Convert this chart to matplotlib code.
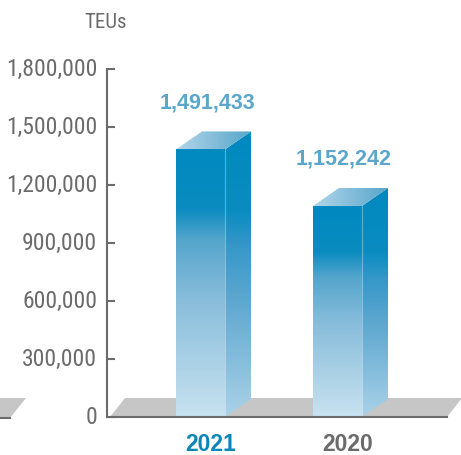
import numpy as np
import matplotlib
matplotlib.use('Agg')
import matplotlib.pyplot as plt
from matplotlib.patches import Polygon
from matplotlib.colors import LinearSegmentedColormap

# ---- data ----
years = ['2021', '2020']
teus = [1491433, 1152242]
year_colors = ['#0a87b9', '#6b6b6b']
yticks = [0, 300000, 600000, 900000, 1200000, 1500000, 1800000]
unit_label = 'TEUs'

# ---- layout (pixels) ----
W, H = 461, 456
fig = plt.figure(figsize=(W / 100, H / 100), dpi=100)
pos = [107 / W, (H - 418) / H, 340 / W, 348 / H]

GRAY = '#6b6b6b'
NARROW = ['Roboto Condensed', 'Archivo Narrow', 'DejaVu Sans']
BOLD = ['Liberation Sans', 'DejaVu Sans']

ax2 = fig.add_axes(pos)   # 3D bars and floor
ax = fig.add_axes(pos)    # visible axis
ax.patch.set_alpha(0)

px_x = 137.0                    # pixels per category step
xlim = ((107 - 200.5) / px_x, (447 - 200.5) / px_x)
bw = 49 / px_x
dx = 26 / px_x
per_px = 6000.0                 # bar-axis value per pixel
dy = 18 * per_px
fd = 19 * per_px                # floor depth
ylim2 = (-fd, 1974000)

front_cmap = LinearSegmentedColormap.from_list(
    'front', [(0, '#0089bf'), (0.22, '#0a8cc0'), (0.34, '#55a5cc'),
              (0.56, '#88bddb'), (1, '#c8e2f0')])
side_cmap = LinearSegmentedColormap.from_list(
    'side', [(0, '#0089bf'), (0.28, '#0a8cc1'), (0.4, '#3598c8'),
             (0.6, '#5fa8d0'), (1, '#aad2e8')])
top_cmap = LinearSegmentedColormap.from_list('top', ['#b2d6ea', '#58a6cb'])


def grad_fill(a, verts, cmap, direction, z):
    poly = Polygon(verts, closed=True, facecolor='none', edgecolor='none',
                   transform=a.transData)
    a.add_patch(poly)
    xs = [v[0] for v in verts]
    ys = [v[1] for v in verts]
    n = 256
    if direction == 'v':
        g = np.linspace(0, 1, n).reshape(n, 1)
    else:
        g = np.linspace(0, 1, n).reshape(1, n)
    im = a.imshow(g, cmap=cmap, extent=(min(xs), max(xs), min(ys), max(ys)),
                  origin='upper', aspect='auto', interpolation='bilinear',
                  zorder=z)
    im.set_clip_path(poly)


# floor
floor = Polygon([((110 - 200.5) / px_x, -fd), ((125 - 200.5) / px_x, 0),
                 ((462 - 200.5) / px_x, 0), ((447 - 200.5) / px_x, -fd)],
                closed=True, facecolor='#c6c6c6', edgecolor='none',
                clip_on=False, zorder=1)
ax2.add_patch(floor)

for i, v in enumerate(teus):
    xl, xr = i - bw / 2, i + bw / 2
    front = [(xl, -fd), (xr, -fd), (xr, v), (xl, v)]
    side = [(xr, -fd), (xr + dx, -fd + dy), (xr + dx, v + dy), (xr, v)]
    top = [(xl, v), (xr, v), (xr + dx, v + dy), (xl + dx, v + dy)]
    grad_fill(ax2, front, front_cmap, 'v', 3)
    grad_fill(ax2, side, side_cmap, 'v', 3)
    grad_fill(ax2, top, top_cmap, 'h', 3)
    ax2.plot([xr, xr], [-fd, v], color='white', alpha=0.35, lw=0.8, zorder=4)
    ax2.annotate(f'{v:,}', xy=(i, v), xytext=(6.5, 42), textcoords='offset pixels',
                 ha='center', va='baseline', fontsize=15.5, fontweight='bold',
                 family=BOLD, color='#5aa7cb', annotation_clip=False)
    ax2.annotate(years[i], xy=(i, 5), xycoords=('data', 'figure pixels'),
                 xytext=(10.5, 0), textcoords='offset pixels',
                 ha='center', va='baseline', fontsize=16.5, fontweight='bold',
                 family=BOLD, color=year_colors[i], annotation_clip=False)

ax2.set_xlim(xlim)
ax2.set_ylim(ylim2)
ax2.axis('off')

# visible axis
ax.set_xlim(xlim)
ax.set_ylim(0, 1800000)
for s in ['top', 'right']:
    ax.spines[s].set_visible(False)
for s in ['left', 'bottom']:
    ax.spines[s].set_color(GRAY)
    ax.spines[s].set_linewidth(1.5)
ax.set_xticks([])
ax.set_yticks(yticks)
ax.tick_params(axis='y', direction='in', length=5.8, width=1.5, color=GRAY,
               labelleft=False)
for t in yticks:
    ax.annotate(f'{t:,}', xy=(0, t), xycoords=('axes fraction', 'data'),
                xytext=(-10, -6), textcoords='offset pixels', ha='right',
                va='baseline', fontsize=17, family=NARROW, color=GRAY,
                annotation_clip=False)

fig.text(105.5 / W, (H - 28) / H, unit_label, ha='center', va='baseline',
         fontsize=15, family=NARROW, color=GRAY)

# fragment of neighbouring floor at the left edge
frag = Polygon([(0, (H - 399) / H), (26 / W, (H - 399) / H),
                (10 / W, (H - 419) / H), (0, (H - 419) / H)],
               closed=True, facecolor='#c6c6c6', edgecolor='none',
               transform=fig.transFigure)
fig.patches.append(frag)
fig.lines.append(plt.Line2D([0, 10 / W], [(H - 419) / H] * 2, color=GRAY,
                            lw=1.5, transform=fig.transFigure))

fig.savefig('out.png', dpi=100)
